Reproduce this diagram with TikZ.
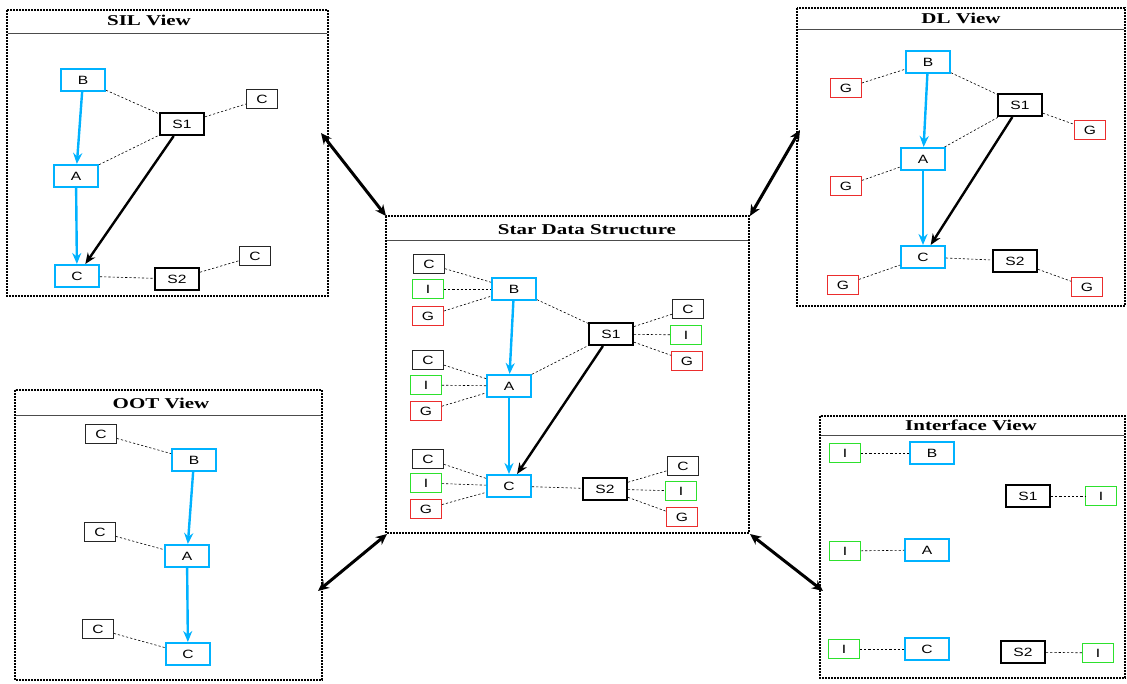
\documentclass[tikz,border=0pt]{standalone}
\usepackage{fontspec}
\setmainfont{Liberation Serif}
\setsansfont{Liberation Sans}
\newfontfamily\boxfont[FakeStretch=1.3]{Liberation Sans}
\newfontfamily\headfont[FakeStretch=1.4]{Liberation Serif}
\usetikzlibrary{arrows.meta}
\definecolor{typeblue}{RGB}{0,178,255}
\definecolor{ifgreen}{RGB}{45,225,45}
\definecolor{genred}{RGB}{235,45,45}
\tikzset{
  view/.style={draw, line width=1.6pt, dash pattern=on 1.6pt off 1.4pt},
  view rule/.style={draw=black!70, line width=0.9pt},
  view title/.style={font=\headfont\bfseries\fontsize{15}{15}\selectfont, inner sep=0pt},
  type box/.style={draw=typeblue, line width=2pt, fill=white,
    minimum width=44pt, minimum height=22pt, inner sep=0pt,
    font=\boxfont\fontsize{12}{12}\selectfont},
  sub box/.style={type box, draw=black},
  facet/.style={draw, line width=0.8pt, fill=white,
    minimum width=31pt, minimum height=19pt, inner sep=0pt,
    font=\boxfont\fontsize{12}{12}\selectfont},
  c box/.style={facet, draw=black!85},
  i box/.style={facet, draw=ifgreen},
  g box/.style={facet, draw=genred},
  link/.style={draw, line width=0.6pt, dash pattern=on 2.2pt off 2pt},
  inherit/.style={draw=typeblue, line width=2.4pt, -{Stealth[length=11pt,width=9pt]}},
  refers/.style={draw, line width=2.4pt, -{Stealth[length=11pt,width=9pt]}},
  between/.style={line width=3pt,
    {Stealth[length=11pt,width=10pt]}-{Stealth[length=11pt,width=10pt]}}
}

\begin{document}
\begin{tikzpicture}[x=1pt,y=-1pt]
  \useasboundingbox (0,0) rectangle (1127,683);

  % frames of the five views
  \draw[view] (7,10) rectangle (328,296);
  \draw[view rule] (8,33) -- (327,33);
  \node[view title] (sil-title) at (149,20) {SIL View};

  \draw[view] (386,216) rectangle (749,533);
  \draw[view rule] (387,240) -- (748,240);
  \node[view title] (star-title) at (587,230) {Star Data Structure};

  \draw[view] (797,8) rectangle (1125,306);
  \draw[view rule] (798,29) -- (1124,29);
  \node[view title] (dl-title) at (961,18) {DL View};

  \draw[view] (15,390) rectangle (322,680);
  \draw[view rule] (16,415) -- (321,415);
  \node[view title] (oot-title) at (161,403) {OOT View};

  \draw[view] (820,416) rectangle (1125,678);
  \draw[view rule] (821,435) -- (1124,435);
  \node[view title] (ifc-title) at (971,425) {Interface View};

  % star data structure
  \node[type box] (star-b) at (514,289) {B};
  \node[type box] (star-a) at (509,386) {A};
  \node[type box] (star-c) at (509,486) {C};
  \node[sub box] (star-s1) at (611,334) {S1};
  \node[sub box] (star-s2) at (605,489) {S2};
  \node[c box] (star-bc) at (429,264) {C};
  \node[i box] (star-bi) at (428,289) {I};
  \node[g box] (star-bg) at (428,316) {G};
  \node[c box] (star-ac) at (428,360) {C};
  \node[i box] (star-ai) at (426,385) {I};
  \node[g box] (star-ag) at (426,411) {G};
  \node[c box] (star-cc) at (428,459) {C};
  \node[i box] (star-ci) at (426,483) {I};
  \node[g box] (star-cg) at (426,509) {G};
  \node[c box] (star-s1c) at (688,309) {C};
  \node[i box] (star-s1i) at (686,335) {I};
  \node[g box] (star-s1g) at (687,361) {G};
  \node[c box] (star-s2c) at (683,466) {C};
  \node[i box] (star-s2i) at (681,491) {I};
  \node[g box] (star-s2g) at (682,517) {G};
  \foreach \t in {b,a,c}
    \foreach \f in {c,i,g}
      \draw[link] (star-\t\f) -- (star-\t);
  \foreach \s in {s1,s2}
    \foreach \f in {c,i,g}
      \draw[link] (star-\s) -- (star-\s\f);
  \draw[link] (star-b) -- (star-s1);
  \draw[link] (star-a) -- (star-s1);
  \draw[link] (star-c) -- (star-s2);
  \draw[inherit] (star-b) -- (star-a);
  \draw[inherit] (star-a) -- (star-c);
  \draw[refers] (star-s1) -- (star-c);

  % SIL view
  \node[type box] (sil-b) at (83,80) {B};
  \node[type box] (sil-a) at (76,176) {A};
  \node[type box] (sil-c) at (77,276) {C};
  \node[sub box] (sil-s1) at (182,124) {S1};
  \node[sub box] (sil-s2) at (177,279) {S2};
  \node[c box] (sil-s1c) at (262,99) {C};
  \node[c box] (sil-s2c) at (255,256) {C};
  \draw[link] (sil-b) -- (sil-s1);
  \draw[link] (sil-a) -- (sil-s1);
  \draw[link] (sil-s1) -- (sil-s1c);
  \draw[link] (sil-c) -- (sil-s2);
  \draw[link] (sil-s2) -- (sil-s2c);
  \draw[inherit] (sil-b) -- (sil-a);
  \draw[inherit] (sil-a) -- (sil-c);
  \draw[refers] (sil-s1) -- (sil-c);

  % DL view
  \node[type box] (dl-b) at (928,62) {B};
  \node[type box] (dl-a) at (923,159) {A};
  \node[type box] (dl-c) at (923,257) {C};
  \node[sub box] (dl-s1) at (1020,105) {S1};
  \node[sub box] (dl-s2) at (1015,261) {S2};
  \node[g box] (dl-bg) at (846,88) {G};
  \node[g box] (dl-ag) at (846,186) {G};
  \node[g box] (dl-cg) at (843,285) {G};
  \node[g box] (dl-s1g) at (1090,130) {G};
  \node[g box] (dl-s2g) at (1087,287) {G};
  \foreach \t in {b,a,c}
    \draw[link] (dl-\t g) -- (dl-\t);
  \draw[link] (dl-s1) -- (dl-s1g);
  \draw[link] (dl-s2) -- (dl-s2g);
  \draw[link] (dl-b) -- (dl-s1);
  \draw[link] (dl-a) -- (dl-s1);
  \draw[link] (dl-c) -- (dl-s2);
  \draw[inherit] (dl-b) -- (dl-a);
  \draw[inherit] (dl-a) -- (dl-c);
  \draw[refers] (dl-s1) -- (dl-c);

  % OOT view
  \node[type box] (oot-b) at (194,460) {B};
  \node[type box] (oot-a) at (187,556) {A};
  \node[type box] (oot-c) at (188,654) {C};
  \node[c box] (oot-bc) at (101,434) {C};
  \node[c box] (oot-ac) at (100,532) {C};
  \node[c box] (oot-cc) at (98,629) {C};
  \foreach \t in {b,a,c}
    \draw[link] (oot-\t c) -- (oot-\t);
  \draw[inherit] (oot-b) -- (oot-a);
  \draw[inherit] (oot-a) -- (oot-c);

  % interface view
  \node[type box] (ifc-b) at (932,453) {B};
  \node[type box] (ifc-a) at (927,550) {A};
  \node[type box] (ifc-c) at (927,649) {C};
  \node[sub box] (ifc-s1) at (1028,496) {S1};
  \node[sub box] (ifc-s2) at (1023,652) {S2};
  \node[i box] (ifc-bi) at (845,453) {I};
  \node[i box] (ifc-ai) at (845,551) {I};
  \node[i box] (ifc-ci) at (844,649) {I};
  \node[i box] (ifc-s1i) at (1101,496) {I};
  \node[i box] (ifc-s2i) at (1098,653) {I};
  \foreach \t in {b,a,c}
    \draw[link] (ifc-\t i) -- (ifc-\t);
  \draw[link] (ifc-s1) -- (ifc-s1i);
  \draw[link] (ifc-s2) -- (ifc-s2i);

  % views are kept in sync with the star structure
  \coordinate (star-nw) at (386,216);
  \coordinate (star-ne) at (750,216);
  \coordinate (star-sw) at (387,534);
  \coordinate (star-se) at (750,534);
  \coordinate (sil-end) at (321,133);
  \coordinate (dl-end) at (800,130);
  \coordinate (oot-end) at (318,591);
  \coordinate (ifc-end) at (823,591);
  \draw[between] (sil-end) -- (star-nw);
  \draw[between] (dl-end) -- (star-ne);
  \draw[between] (oot-end) -- (star-sw);
  \draw[between] (ifc-end) -- (star-se);
\end{tikzpicture}
\end{document}
